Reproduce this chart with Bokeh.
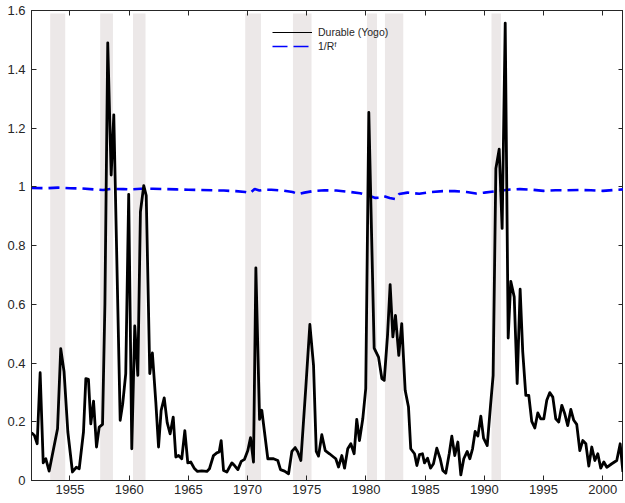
from bokeh.plotting import figure
from bokeh.models import (LinearAxis, FixedTicker, Legend, LegendItem, ColumnDataSource,
                          CustomJSTickFormatter)
from bokeh.embed import file_html
from bokeh.resources import INLINE

# ---------------- data ----------------
durable_year = [
    1951.75, 1952.0, 1952.23, 1952.48, 1952.74, 1952.96, 1953.24, 1953.95, 1954.22, 1954.5,
    1954.82, 1955.21, 1955.53, 1955.78, 1956.14, 1956.34, 1956.56, 1956.76, 1956.99, 1957.24,
    1957.47, 1957.75, 1957.95, 1958.19, 1958.48, 1958.7, 1959.24, 1959.45, 1959.71, 1959.96,
    1960.22, 1960.47, 1960.73, 1960.95, 1961.23, 1961.44, 1961.74, 1961.96, 1962.25, 1962.48,
    1962.7, 1962.96, 1963.21, 1963.46, 1963.72, 1963.94, 1964.17, 1964.44, 1964.7, 1964.95,
    1965.2, 1965.49, 1965.77, 1966.13, 1966.56, 1966.78, 1967.12, 1967.4, 1967.6, 1967.77,
    1967.97, 1968.25, 1968.67, 1968.9, 1969.18, 1969.46, 1969.74, 1970.02, 1970.25, 1970.5,
    1970.7, 1971.01, 1971.2, 1971.71, 1972.19, 1972.55, 1972.78, 1973.12, 1973.46, 1973.74,
    1974.02, 1974.24, 1974.5, 1974.92, 1975.26, 1975.57, 1975.8, 1975.99, 1976.27, 1976.56,
    1976.92, 1977.26, 1977.45, 1977.68, 1977.96, 1978.19, 1978.46, 1978.72, 1979.0, 1979.22,
    1979.45, 1979.73, 1979.98, 1980.24, 1980.69, 1981.06, 1981.34, 1981.54, 1981.82, 1982.04,
    1982.27, 1982.49, 1982.77, 1983.02, 1983.31, 1983.59, 1983.78, 1984.1, 1984.3, 1984.52,
    1984.77, 1984.94, 1985.2, 1985.45, 1985.7, 1985.98, 1986.27, 1986.49, 1986.74, 1987.03,
    1987.25, 1987.5, 1987.76, 1988.01, 1988.26, 1988.55, 1988.77, 1989.0, 1989.22, 1989.45,
    1989.7, 1989.93, 1990.24, 1990.52, 1990.74, 1990.97, 1991.25, 1991.5, 1991.76, 1992.01,
    1992.23, 1992.52, 1992.77, 1993.02, 1993.24, 1993.5, 1993.75, 1994.0, 1994.26, 1994.51,
    1994.76, 1995.02, 1995.27, 1995.52, 1995.78, 1996.03, 1996.28, 1996.54, 1996.79, 1997.04,
    1997.3, 1997.55, 1997.8, 1998.06, 1998.31, 1998.57, 1998.82, 1999.07, 1999.33, 1999.58,
    1999.83, 2000.09, 2000.34, 2000.76, 2001.18, 2001.47, 2001.7,
]
durable_value = [
    0.163, 0.153, 0.125, 0.367, 0.060, 0.074, 0.032, 0.176, 0.449, 0.370,
    0.165, 0.029, 0.045, 0.040, 0.165, 0.347, 0.344, 0.193, 0.270, 0.114,
    0.182, 0.191, 0.600, 1.490, 1.040, 1.245, 0.205, 0.260, 0.364, 0.974,
    0.108, 0.526, 0.358, 0.915, 1.004, 0.970, 0.364, 0.434, 0.267, 0.114,
    0.239, 0.281, 0.197, 0.159, 0.216, 0.080, 0.085, 0.074, 0.170, 0.060,
    0.063, 0.042, 0.031, 0.033, 0.031, 0.040, 0.085, 0.094, 0.097, 0.136,
    0.034, 0.029, 0.060, 0.051, 0.037, 0.065, 0.072, 0.102, 0.146, 0.063,
    0.724, 0.208, 0.239, 0.074, 0.074, 0.068, 0.037, 0.032, 0.023, 0.099,
    0.112, 0.097, 0.068, 0.318, 0.531, 0.392, 0.099, 0.083, 0.156, 0.102,
    0.091, 0.080, 0.074, 0.046, 0.085, 0.042, 0.108, 0.125, 0.091, 0.208,
    0.136, 0.210, 0.313, 1.253, 0.451, 0.420, 0.347, 0.341, 0.494, 0.667,
    0.489, 0.562, 0.426, 0.534, 0.307, 0.250, 0.108, 0.091, 0.051, 0.088,
    0.091, 0.060, 0.076, 0.042, 0.057, 0.110, 0.074, 0.034, 0.025, 0.091,
    0.151, 0.085, 0.131, 0.019, 0.074, 0.099, 0.074, 0.108, 0.167, 0.151,
    0.219, 0.144, 0.119, 0.256, 0.358, 1.062, 1.128, 0.858, 1.557, 0.485,
    0.678, 0.625, 0.330, 0.651, 0.438, 0.290, 0.290, 0.201, 0.179, 0.230,
    0.210, 0.210, 0.273, 0.299, 0.284, 0.210, 0.199, 0.256, 0.227, 0.187,
    0.242, 0.205, 0.191, 0.102, 0.136, 0.125, 0.049, 0.114, 0.068, 0.091,
    0.042, 0.063, 0.045, 0.057, 0.068, 0.125, 0.029,
]

rf_year = [
    1951.75, 1953.0, 1954.0, 1955.0, 1956.0, 1957.0, 1957.8, 1958.5, 1959.5, 1960.0,
    1961.0, 1962.0, 1963.0, 1964.0, 1965.0, 1966.0, 1967.0, 1968.0, 1969.0, 1969.8,
    1970.2, 1970.6, 1971.0, 1971.5, 1972.0, 1973.0, 1973.8, 1974.3, 1974.8, 1975.5,
    1976.5, 1977.5, 1978.5, 1979.5, 1980.0, 1980.5, 1980.8, 1981.2, 1981.5, 1982.0,
    1982.5, 1982.8, 1983.5, 1984.5, 1985.5, 1986.5, 1987.5, 1988.5, 1989.3, 1990.0,
    1991.0, 1992.0, 1993.0, 1994.0, 1995.0, 1996.0, 1997.0, 1998.0, 1999.0, 2000.0,
    2001.0, 2001.75,
]
rf_value = [
    0.996, 0.995, 0.997, 0.995, 0.994, 0.991, 0.989, 0.993, 0.992, 0.991,
    0.993, 0.993, 0.992, 0.991, 0.990, 0.989, 0.988, 0.987, 0.985, 0.982,
    0.978, 0.992, 0.987, 0.990, 0.990, 0.987, 0.982, 0.975, 0.980, 0.985,
    0.988, 0.987, 0.983, 0.978, 0.972, 0.966, 0.962, 0.963, 0.968, 0.962,
    0.958, 0.975, 0.980, 0.976, 0.982, 0.985, 0.985, 0.982, 0.977, 0.980,
    0.985, 0.990, 0.992, 0.990, 0.986, 0.988, 0.988, 0.989, 0.988, 0.986,
    0.989, 0.991,
]

recession_start = [1953.33, 1957.55, 1960.32, 1969.80, 1973.83, 1980.08, 1981.60, 1990.60]
recession_end = [1954.60, 1958.63, 1961.38, 1971.13, 1975.40, 1980.93, 1983.15, 1991.40]

x_ticks = [1955, 1960, 1965, 1970, 1975, 1980, 1985, 1990, 1995, 2000]
y_ticks = [0, 0.2, 0.4, 0.6, 0.8, 1.0, 1.2, 1.4, 1.6]
y_tick_labels = ["0", "0.2", "0.4", "0.6", "0.8", "1", "1.2", "1.4", "1.6"]

series_labels = ["Durable (Yogo)", "1/R\u1da0"]

# ---------------- figure ----------------
FONT = "Liberation Sans"
AX = "#262626"
NAN = float("nan")

p = figure(width=623, height=496, x_range=(1951.75, 2001.75), y_range=(0, 1.6),
           output_backend="svg", toolbar_location=None,
           min_border_left=31, min_border_right=0, min_border_top=10, min_border_bottom=16)
p.xgrid.visible = False
p.ygrid.visible = False
p.outline_line_color = AX
p.background_fill_color = "white"

# recession bands
band_src = ColumnDataSource(dict(left=recession_start, right=recession_end))
p.quad(left="left", right="right", bottom=0, top=1.59, source=band_src,
       fill_color="#ECE8E8", line_color=None)

# series
p.line(rf_year, rf_value, line_color="#0000FF", line_width=2.6, line_dash="11 6")
p.line(durable_year, durable_value, line_color="black", line_width=2.8,
       line_join="round")

# legend proxies (thin lines, nothing drawn in the plot)
leg_black = p.line([NAN], [NAN], line_color="black", line_width=1.2)
leg_blue = p.line([NAN], [NAN], line_color="#0000FF", line_width=1.4, line_dash="15 6")
legend = Legend(items=[LegendItem(label=series_labels[0], renderers=[leg_black]),
                       LegendItem(label=series_labels[1], renderers=[leg_blue])],
                location=(241, 427), border_line_alpha=0, background_fill_alpha=0,
                padding=0, margin=0, spacing=0, glyph_width=40, glyph_height=14,
                label_height=14, label_standoff=6, label_text_font_size="10.5px",
                label_text_font=FONT, label_text_color="#262626")
p.add_layout(legend)

def style(ax, labels=True):
    ax.axis_line_color = AX
    ax.major_tick_line_color = AX
    ax.minor_tick_line_color = None
    ax.major_tick_in = 5
    ax.major_tick_out = 0
    ax.major_label_text_font = FONT
    ax.major_label_text_color = "#262626"
    ax.major_label_text_font_size = "13px"
    if not labels:
        ax.formatter = CustomJSTickFormatter(code="return ''")
        ax.major_label_standoff = 0
        ax.major_label_text_font_size = "1px"

p.xaxis.ticker = FixedTicker(ticks=x_ticks)
p.yaxis.ticker = FixedTicker(ticks=y_ticks)
p.yaxis.major_label_overrides = {t: l for t, l in zip(y_ticks, y_tick_labels)}
style(p.xaxis[0])
style(p.yaxis[0])
p.xaxis.major_label_standoff = 4
p.yaxis.major_label_standoff = 6

top_ax = LinearAxis(ticker=FixedTicker(ticks=x_ticks))
right_ax = LinearAxis(ticker=FixedTicker(ticks=y_ticks))
style(top_ax, labels=False)
style(right_ax, labels=False)
p.add_layout(top_ax, "above")
p.add_layout(right_ax, "right")

open("out.html", "w").write(file_html(p, INLINE))
